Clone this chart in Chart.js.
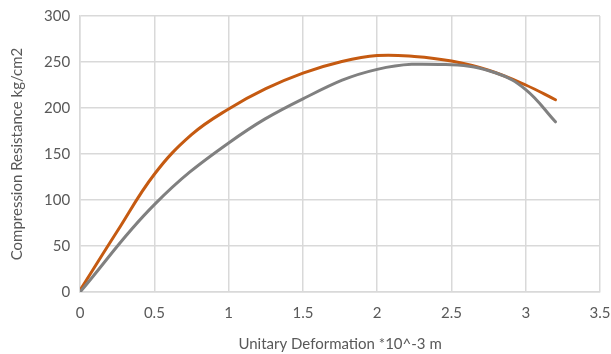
<!DOCTYPE html>
<html>
<head>
<meta charset="utf-8">
<script src="https://cdn.jsdelivr.net/npm/chart.js@4"></script>
<style>
  html, body { margin: 0; padding: 0; background: #fff; }
  #wrap { width: 611px; height: 354px; }
</style>
</head>
<body>
<div id="wrap"><canvas id="chart" width="611" height="354"></canvas></div>
<script>
// Деформация и сопротивление сжатию
const orangeX = [0, 0.25, 0.5, 0.75, 1, 1.25, 1.5, 1.75, 2, 2.25, 2.5, 2.75, 3, 3.2];
const orangeY = [2, 66, 128, 171, 199, 221, 238, 250, 257, 256, 251, 241, 225, 209];
const grayX = [0, 0.5, 1, 1.5, 2, 2.5, 2.8, 3, 3.2];
const grayY = [0, 95, 162, 210, 242, 247, 238, 220, 185];
const xTitle = 'Unitary Deformation *10^-3 m';
const yTitle = 'Compression Resistance kg/cm2';

const toPoints = (xs, ys) => xs.map((x, i) => ({ x, y: ys[i] }));

const fontFamily = "Lato, 'Open Sans', sans-serif";

new Chart(document.getElementById('chart').getContext('2d'), {
  type: 'scatter',
  data: {
    datasets: [
      {
        data: toPoints(grayX, grayY),
        showLine: true,
        borderColor: '#808080',
        borderWidth: 3,
        pointRadius: 0,
        tension: 0.4,
        borderCapStyle: 'round'
      },
      {
        data: toPoints(orangeX, orangeY),
        showLine: true,
        borderColor: '#C55A11',
        borderWidth: 3,
        pointRadius: 0,
        tension: 0.4,
        borderCapStyle: 'round'
      }
    ]
  },
  options: {
    responsive: false,
    animation: false,
    layout: { padding: { left: 4, right: 11, top: 16, bottom: 1 } },
    plugins: {
      legend: { display: false },
      tooltip: { enabled: false }
    },
    scales: {
      x: {
        type: 'linear',
        min: 0,
        max: 3.5,
        afterFit: s => { s.paddingLeft = 0; s.paddingRight = 0; },
        ticks: {
          stepSize: 0.5,
          color: '#595959',
          font: { family: fontFamily, size: 15 },
          padding: 12,
          callback: v => String(v)
        },
        grid: { color: '#d9d9d9', lineWidth: 1.5, drawTicks: false },
        border: { color: '#d9d9d9', width: 1.5 },
        title: { display: true, text: xTitle, color: '#595959', font: { family: fontFamily, size: 15 }, padding: { top: 1, bottom: 0 } }
      },
      y: {
        min: 0,
        max: 300,
        afterFit: s => { s.paddingTop = 0; s.paddingBottom = 0; },
        ticks: {
          stepSize: 50,
          color: '#595959',
          font: { family: fontFamily, size: 15 },
          padding: 10,
          callback: v => String(v)
        },
        grid: { color: '#d9d9d9', lineWidth: 1.5, drawTicks: false },
        border: { color: '#d9d9d9', width: 1.5 },
        title: { display: true, text: yTitle, color: '#595959', font: { family: fontFamily, size: 15 }, padding: { bottom: 8 } }
      }
    }
  }
});
</script>
</body>
</html>
